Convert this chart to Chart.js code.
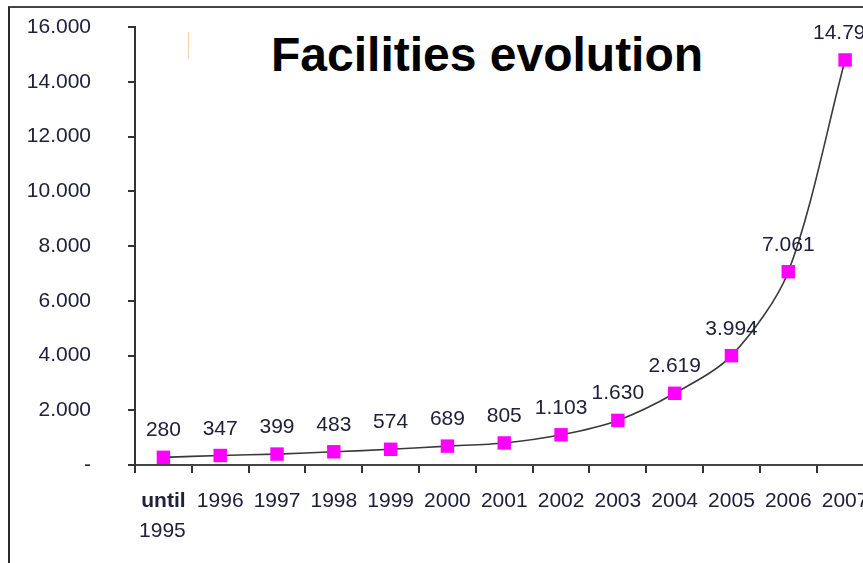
<!DOCTYPE html>
<html>
<head>
<meta charset="utf-8">
<script src="https://cdn.jsdelivr.net/npm/chart.js@4/dist/chart.umd.min.js"></script>
<style>
    html, body { margin: 0; padding: 0; background: #fff; overflow: hidden; }
    #marco  { position: absolute; left: 8px; top: 6px; width: 900px; height: 600px;
              border-left: 2px solid #2a2a2a; border-top: 2px solid #444; }
    #raya   { position: absolute; left: 188px; top: 32px; width: 1px; height: 27px; background: #f2d6a6; }
    #titulo { position: absolute; left: 271px; top: 31px; margin: 0; white-space: nowrap;
              font: bold 48px/48px "Liberation Sans", Arial, sans-serif; color: #000; }
    #grafico { position: absolute; left: 0; top: 0; }
</style>
</head>
<body>
<div id="marco"></div>
<div id="raya"></div>
<h1 id="titulo">Facilities evolution</h1>
<canvas id="grafico" width="883" height="563"></canvas>

<script>
// =========================================================
// DATOS
// =========================================================
const categorias    = ['until 1995', '1996', '1997', '1998', '1999', '2000', '2001',
                       '2002', '2003', '2004', '2005', '2006', '2007'];
const etiquetaLinea1 = 'until';
const etiquetaLinea2 = '1995';
const instalaciones = [280, 347, 399, 483, 574, 689, 805, 1103, 1630, 2619, 3994, 7061, 14796];
const ejeY = { min: 0, max: 16000, paso: 2000 };

const FUENTE = '"Liberation Sans", Arial, sans-serif';
const TEXTO  = '#20203a';

// 14796 -> "14.796", 0 -> "-"
function formato(v) {
    if (v === 0) return '-';
    return String(v).replace(/\B(?=(\d{3})+(?!\d))/g, '.');
}

// =========================================================
// PLUGINS
// =========================================================
const etiquetasDatos = {
    id: 'etiquetasDatos',
    afterDatasetsDraw(chart) {
        const ctx = chart.ctx;
        const meta = chart.getDatasetMeta(0);
        ctx.save();
        ctx.font = '21px ' + FUENTE;
        ctx.fillStyle = TEXTO;
        ctx.textAlign = 'center';
        ctx.textBaseline = 'alphabetic';
        meta.data.forEach((pt, i) => {
            ctx.fillText(formato(instalaciones[i]), pt.x, pt.y - 21);
        });
        ctx.restore();
    }
};

// segunda línea de la primera categoría ("1995") en fuente normal
const segundaLinea = {
    id: 'segundaLinea',
    afterDraw(chart) {
        const x = chart.scales.x;
        const ctx = chart.ctx;
        ctx.save();
        ctx.font = '21px ' + FUENTE;
        ctx.fillStyle = TEXTO;
        ctx.textAlign = 'center';
        ctx.textBaseline = 'alphabetic';
        ctx.fillText(etiquetaLinea2, x.getPixelForTick(0) - 1, 537);
        ctx.restore();
    }
};

// =========================================================
// GRÁFICO
// =========================================================
new Chart(document.getElementById('grafico'), {
    type: 'line',
    data: {
        labels: categorias,
        datasets: [{
            data: instalaciones,
            borderColor: '#3a3a3a',
            borderWidth: 1.6,
            tension: 0.3,
            pointStyle: 'rect',
            pointRadius: 9.5,
            pointHoverRadius: 9.5,
            pointBackgroundColor: '#ff00ff',
            pointBorderColor: '#ff00ff',
            pointBorderWidth: 0,
            clip: false
        }]
    },
    options: {
        responsive: false,
        animation: false,
        layout: { padding: { top: 27, right: 7, left: 0, bottom: 0 } },
        plugins: { legend: { display: false }, tooltip: { enabled: false }, title: { display: false } },
        scales: {
            x: {
                offset: true,
                grid: { offset: true, drawOnChartArea: false, tickLength: 8, color: '#333', lineWidth: 2 },
                border: { color: '#444', width: 2 },
                ticks: {
                    padding: 16,
                    maxRotation: 0,
                    autoSkip: false,
                    color: TEXTO,
                    font: (c) => ({ family: FUENTE, size: 21, weight: c.index === 0 ? 'bold' : 'normal' }),
                    callback: function (v, i) { return i === 0 ? etiquetaLinea1 : this.getLabelForValue(v); }
                },
                afterFit: (s) => { s.height = 98; s.paddingLeft = 0; s.paddingRight = 0; }
            },
            y: {
                min: ejeY.min,
                max: ejeY.max,
                grid: { drawOnChartArea: false, tickLength: 7, color: '#333', lineWidth: 2 },
                border: { color: '#333', width: 2 },
                ticks: {
                    stepSize: ejeY.paso,
                    padding: 37,
                    color: TEXTO,
                    font: { family: FUENTE, size: 21 },
                    callback: (v) => formato(v)
                },
                afterFit: (s) => { s.width = 135; s.paddingTop = 12; s.paddingBottom = 0; }
            }
        }
    },
    plugins: [etiquetasDatos, segundaLinea]
});
</script>
</body>
</html>
